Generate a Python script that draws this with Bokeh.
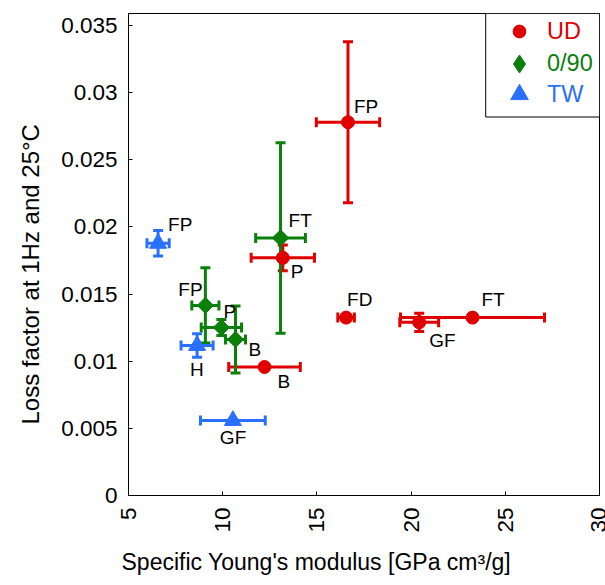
from math import pi
from bokeh.plotting import figure
from bokeh.models import (ColumnDataSource, Range1d, FixedTicker, Whisker, TeeHead,
                          Legend, LegendItem, BoxAnnotation, Title)
from bokeh.core.properties import value
from bokeh.embed import file_html
from bokeh.resources import INLINE

# ---------------- data ----------------
# UD
ud_names = ["FP", "P", "FD", "GF", "FT", "B"]
ud_x = [16.65, 13.19, 16.55, 20.43, 23.26, 12.22]
ud_y = [0.0278, 0.0177, 0.01325, 0.0129, 0.01325, 0.00957]
ud_xerr = [1.68, 1.68, 0.44, 1.03, 3.82, 1.9]
ud_yerr = [0.0060, 0.00096, 0.0002, 0.00068, 0.0001, 0.0001]

# 0/90
cp_names = ["FT", "FP", "P", "B"]
cp_x = [13.07, 9.08, 9.93, 10.68]
cp_y = [0.01918, 0.01416, 0.01251, 0.01162]
cp_xerr = [1.32, 0.72, 1.07, 0.53]
cp_yerr = [0.0071, 0.0028, 0.0006, 0.0025]

# TW
tw_names = ["FP", "H", "GF"]
tw_x = [6.57, 8.64, 10.54]
tw_y = [0.01878, 0.01117, 0.00558]
tw_xerr = [0.59, 0.85, 1.72]
tw_yerr = [0.00095, 0.00087, 0.0001]

series_labels = ["UD", "0/90", "TW"]
x_ticks = [5, 10, 15, 20, 25, 30]
y_ticks = [0, 0.005, 0.01, 0.015, 0.02, 0.025, 0.03, 0.035]
y_tick_labels = ["0", "0.005", "0.01", "0.015", "0.02", "0.025", "0.03", "0.035"]
x_title = "Specific Young's modulus [GPa cm\u00b3/g]"
y_title = "Loss factor at 1Hz and 25\u00b0C"

# ---------------- style ----------------
RED = "#E00000"
GREEN = "#0A800A"
BLUE = "#2A70FF"
FONT = "Liberation Sans"

# label offsets (screen px) for point annotations
ud_dx = [6, 8, 1, 10, 9, 13]
ud_dy = [-16, 14, -18, 18, -18, 14]
cp_dx = [8, -27, 2, 13]
cp_dy = [-17, -16, -16, 10]
tw_dx = [10, -7, -13]
tw_dy = [-19, 24, 17]

p = figure(width=605, height=585, output_backend="svg", toolbar_location=None,
           x_range=Range1d(5, 30), y_range=Range1d(0, 0.0359),
           min_border_left=127, min_border_right=6, min_border_top=13, min_border_bottom=89,
           title=None)

p.xgrid.visible = False
p.ygrid.visible = False
p.outline_line_color = "black"
p.outline_line_width = 1
p.background_fill_color = "white"
p.border_fill_color = "white"

for ax in (p.xaxis[0], p.yaxis[0]):
    ax.axis_line_color = "black"
    ax.major_tick_line_color = "black"
    ax.major_tick_in = 4
    ax.major_tick_out = 0
    ax.minor_tick_line_color = None
    ax.major_label_text_font = FONT
    ax.major_label_text_font_size = "22.5px"
    ax.major_label_text_color = "black"

p.xaxis.ticker = FixedTicker(ticks=x_ticks)
p.xaxis.major_label_orientation = pi / 2
p.xaxis.major_label_standoff = 12
p.yaxis.ticker = FixedTicker(ticks=y_ticks)
p.yaxis.major_label_overrides = {t: l for t, l in zip(y_ticks, y_tick_labels)}
p.yaxis.major_label_standoff = 11


def add_errors(x, y, xe, ye, color):
    src = ColumnDataSource(dict(
        x=x, y=y,
        xl=[a - b for a, b in zip(x, xe)], xu=[a + b for a, b in zip(x, xe)],
        yl=[a - b for a, b in zip(y, ye)], yu=[a + b for a, b in zip(y, ye)]))
    for dim, base, lo, up in (("width", "y", "xl", "xu"), ("height", "x", "yl", "yu")):
        w = Whisker(source=src, base=base, lower=lo, upper=up, dimension=dim,
                    line_color=color, line_width=3, level="underlay",
                    lower_head=TeeHead(size=10, line_color=color, line_width=3),
                    upper_head=TeeHead(size=10, line_color=color, line_width=3))
        p.add_layout(w)


add_errors(ud_x, ud_y, ud_xerr, ud_yerr, RED)
add_errors(cp_x, cp_y, cp_xerr, cp_yerr, GREEN)
add_errors(tw_x, tw_y, tw_xerr, tw_yerr, BLUE)

r_ud = p.scatter(ud_x, ud_y, marker="circle", size=13, fill_color=RED, line_color=RED)
r_cp = p.scatter(cp_x, cp_y, marker="square", angle=pi / 4, size=11.5,
                 fill_color=GREEN, line_color=GREEN)
r_tw = p.scatter(tw_x, tw_y, marker="triangle", size=17, fill_color=BLUE, line_color=BLUE)
# legend-only renderer (not drawn in the plot: NaN point) so the legend shows a diamond
r_cp_leg = p.scatter(x=[float("nan")], y=[float("nan")], marker="diamond",
                     fill_color=GREEN, line_color=GREEN)

for xs, ys, names, dx, dy in ((ud_x, ud_y, ud_names, ud_dx, ud_dy),
                              (cp_x, cp_y, cp_names, cp_dx, cp_dy),
                              (tw_x, tw_y, tw_names, tw_dx, tw_dy)):
    p.text(x=xs, y=ys, text=names, x_offset=dx, y_offset=dy,
           text_font=value(FONT), text_font_size="19px", text_color="black",
           text_align="left", text_baseline="middle")

# legend frame
p.add_layout(BoxAnnotation(left=23.96, right=30, bottom=0.02819, top=0.0359,
                           fill_color="white", fill_alpha=1.0,
                           line_color="black", line_width=1, line_alpha=1.0))

for r, lab, col, yb, gh in ((r_ud, series_labels[0], RED, 448, 32),
                            (r_cp_leg, series_labels[1], GREEN, 409.5, 45),
                            (r_tw, series_labels[2], BLUE, 379, 44)):
    lg = Legend(items=[LegendItem(label=lab, renderers=[r])], location=(366, yb),
                padding=0, margin=0, spacing=0, glyph_width=50, glyph_height=gh,
                label_height=gh, label_standoff=3, label_text_color=col,
                label_text_font=FONT, label_text_font_size="23.5px",
                border_line_alpha=0, background_fill_alpha=0)
    p.add_layout(lg)

p.add_layout(Title(text=x_title, align="left", offset=-7, text_font=FONT, text_color="black",
                   text_font_size="23px", text_font_style="normal", standoff=22,
                   text_line_height=1.0), "below")
p.add_layout(Title(text=y_title, align="left", offset=71, text_font=FONT, text_color="black",
                   text_font_size="24px", text_font_style="normal", standoff=29,
                   text_line_height=1.0), "left")

open("out.html", "w").write(file_html(p, INLINE))
